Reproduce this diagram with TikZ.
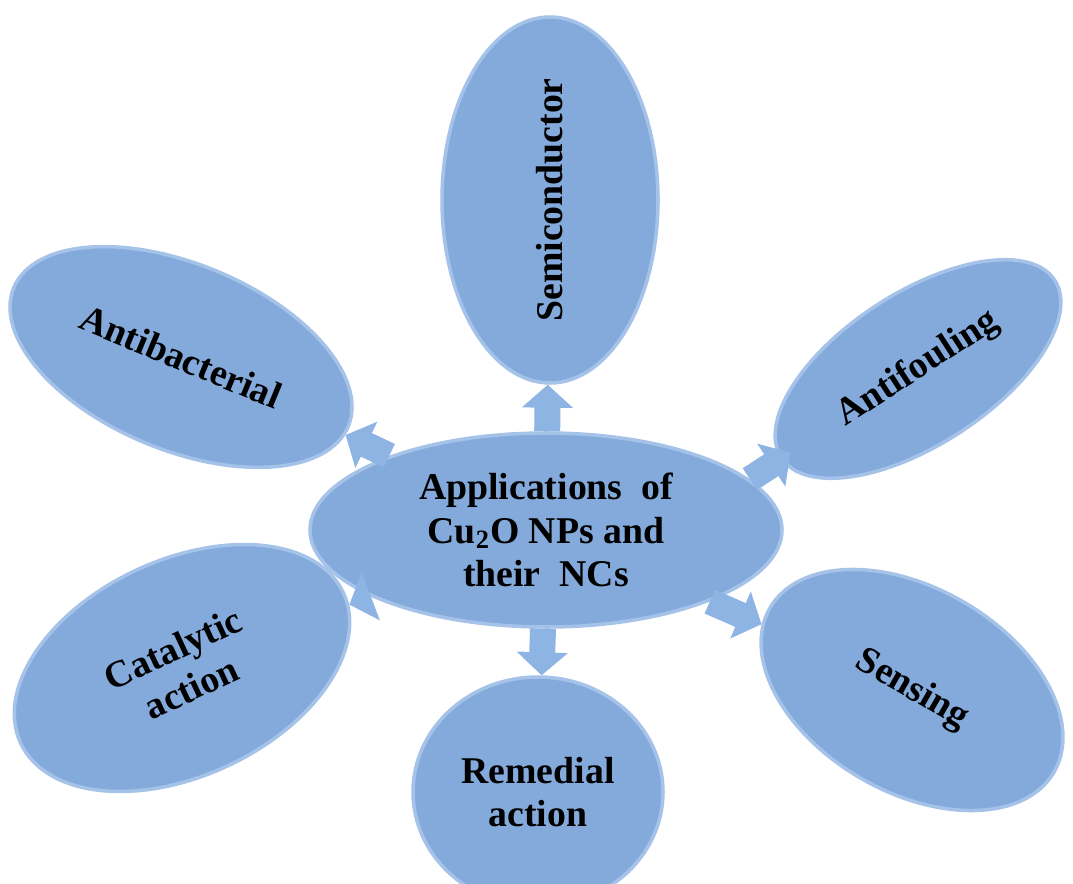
\documentclass[tikz,border=0pt]{standalone}
\usepackage{fontspec}
\setmainfont{Liberation Serif}
\usetikzlibrary{shapes.geometric,arrows.meta}
\definecolor{cellblue}{RGB}{132,170,219}
\definecolor{rimblue}{RGB}{165,194,233}
\definecolor{flowblue}{RGB}{141,180,227}
\begin{document}
\begin{tikzpicture}[line join=round,>=Triangle]
	\tikzset{every node/.style={font=\bfseries\fontsize{21.5}{24.7}\selectfont},
		cell/.style={ellipse,fill=cellblue,draw=rimblue,line width=2pt,inner sep=0pt,align=center},
		flow/.style={draw=flowblue,line width=0.52cm,line cap=butt,-{Triangle[width=1.0cm,length=0.46cm]}}}
	\clip (0,0) rectangle (21.46,17.66);
	\node[cell,minimum width=9.44cm,minimum height=3.88cm] (hub) at (10.92,7.06) {Applications\ \ of\\Cu\textsubscript{2}O NPs and\\their\ \ NCs};
	\node[cell,minimum width=7.32cm,minimum height=4.32cm,rotate=90] (semi) at (11.0,13.66) {Semiconductor};
	\node[cell,minimum width=7.24cm,minimum height=3.72cm,rotate=-22.5] (abac) at (3.62,10.52) {Antibacterial};
	\node[cell,minimum width=6.52cm,minimum height=3.04cm,rotate=33] (afoul) at (18.36,10.28) {Antifouling};
	\node[cell,minimum width=7.12cm,minimum height=4.32cm,rotate=25] (catal) at (3.64,4.30) {Catalytic\\action};
	\node[cell,minimum width=6.56cm,minimum height=4.08cm,rotate=-30] (sens) at (18.24,3.86) {Sensing};
	\node[cell,minimum width=5.0cm,minimum height=4.6cm] (rem) at (10.76,1.82) {Remedial\\action};
	\foreach \t in {semi,abac,catal,sens,rem}
	\draw[flow] (hub) -- (\t);
	\draw[flow,shorten >=-7pt] (hub.14) -- (afoul);
\end{tikzpicture}
\end{document}
